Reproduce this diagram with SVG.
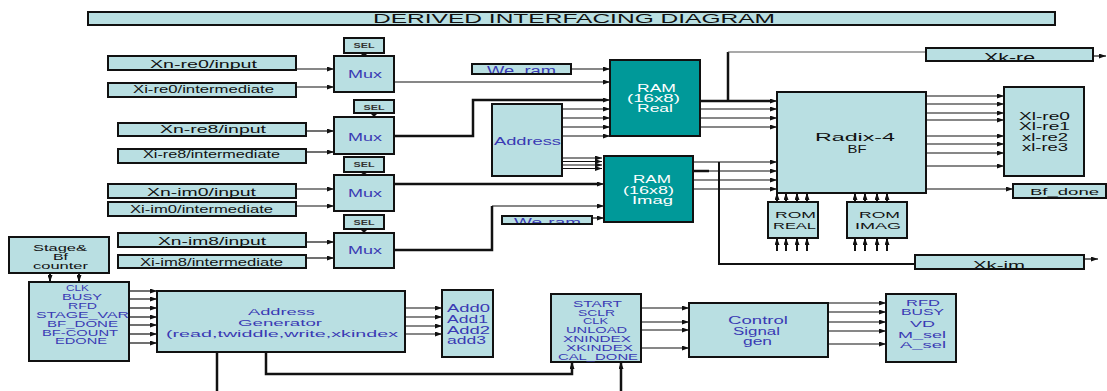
<svg xmlns="http://www.w3.org/2000/svg" width="1107" height="391" viewBox="0 0 1107 391">
<style>
.b{fill:#b9dfe2;stroke:#111;stroke-width:2}
.t{fill:#009999;stroke:#111;stroke-width:2}
text{font-family:"Liberation Sans",Arial,sans-serif;text-anchor:middle}
.k{fill:#111}
.u{fill:#3a3ab4}
.w{fill:#fff}
.l{text-anchor:start}
.sel{font-size:6.5px;font-weight:bold;fill:#333}
.c{fill:none;stroke:#111;stroke-width:1.2}
.cg{fill:none;stroke:#555;stroke-width:1.2}
.ck{fill:none;stroke:#111;stroke-width:2.5}
.a{marker-end:url(#ah)}
</style>
<defs>
<marker id="ah" markerWidth="7" markerHeight="5" refX="7" refY="2.5" orient="auto" markerUnits="userSpaceOnUse"><path d="M0,0 L7,2.5 L0,5 z" fill="#111"/></marker>
<clipPath id="cw1"><rect x="473" y="64" width="97" height="9"/></clipPath>
<clipPath id="cw2"><rect x="503" y="216" width="88" height="7"/></clipPath>
<clipPath id="ckr"><rect x="927" y="48" width="165" height="12"/></clipPath>
<clipPath id="cki"><rect x="916" y="255" width="167" height="13"/></clipPath>
</defs>

<g id="title"><rect class="b" x="88" y="12" width="967" height="13"/><text class="k" x="574" y="23" font-size="13" textLength="402" lengthAdjust="spacingAndGlyphs">DERIVED INTERFACING DIAGRAM</text></g>

<g id="connectors">
<path class="c a" d="M296,69H334"/><path class="c a" d="M296,87H334"/>
<path class="c a" d="M306,131H334"/><path class="c a" d="M306,152H334"/>
<path class="c a" d="M296,189H334"/><path class="c a" d="M296,206H334"/>
<path class="c a" d="M306,242H334"/><path class="c a" d="M306,258H334"/>
<path d="M360,53H368L364,57z" fill="#111"/><path d="M370,113H378L374,117z" fill="#111"/>
<path d="M360,172H368L364,175z" fill="#111"/><path d="M360,229H368L364,233z" fill="#111"/>
<path class="c a" d="M394,82H610"/>
<path class="ck" d="M394,136H473V100H603"/><path class="c a" d="M600,100H610"/>
<path class="ck" d="M394,184H597"/><path class="c a" d="M595,184H604"/>
<path class="ck" d="M394,250H492V206"/><path class="c a" d="M492,206H604"/>
<path class="c a" d="M571,69H610"/><path class="c a" d="M592,218H604"/>
<path class="c a" d="M562,109H610"/><path class="c a" d="M562,118H610"/><path class="c a" d="M562,127H610"/><path class="c a" d="M562,136H610"/>
<path class="c a" d="M562,158H602"/><path class="c a" d="M562,161.5H602"/><path class="c a" d="M562,165H602"/><path class="c a" d="M562,168.5H602"/>
<path class="ck" d="M700,101H770"/><path class="c a" d="M768,101H777"/>
<path class="c a" d="M700,109H777"/><path class="c a" d="M700,118H777"/><path class="c a" d="M700,127H777"/>
<path class="ck" d="M728,101V52"/><path class="cg" d="M728,52H926"/>
<path class="c a" d="M1093,56H1106"/>
<path class="c a" d="M693,162H777"/><path class="c a" d="M693,171H777"/><path class="ck" d="M693,171H709"/><path class="c a" d="M693,180H777"/><path class="c a" d="M693,189H777"/>
<path class="ck" d="M719,162V264H915" style="stroke-width:2"/>
<path class="c a" d="M1084,259H1098"/>
<path class="c a" d="M926,96H1004"/><path class="c a" d="M926,104H1004"/><path class="c a" d="M926,113H1004"/><path class="c a" d="M926,120H1004"/>
<path class="c a" d="M926,136H1004"/><path class="c a" d="M926,144H1004"/><path class="c a" d="M926,153H1004"/><path class="c a" d="M926,166H1004"/>
<path class="c a" d="M926,189H1013"/>
<path class="ck a" style="stroke-width:2" d="M777,251V238"/><path class="ck a" style="stroke-width:2" d="M786,251V238"/><path class="ck a" style="stroke-width:2" d="M797,251V238"/><path class="ck a" style="stroke-width:2" d="M807,251V238"/>
<path class="ck a" style="stroke-width:2" d="M777,202V193"/><path class="ck a" style="stroke-width:2" d="M786,202V193"/><path class="ck a" style="stroke-width:2" d="M797,202V193"/><path class="ck a" style="stroke-width:2" d="M807,202V193"/>
<path class="ck a" style="stroke-width:2" d="M855,251V238"/><path class="ck a" style="stroke-width:2" d="M865,251V238"/><path class="ck a" style="stroke-width:2" d="M877,251V238"/><path class="ck a" style="stroke-width:2" d="M887,251V238"/>
<path class="ck a" style="stroke-width:2" d="M855,202V193"/><path class="ck a" style="stroke-width:2" d="M865,202V193"/><path class="ck a" style="stroke-width:2" d="M877,202V193"/><path class="ck a" style="stroke-width:2" d="M887,202V193"/>
<path class="ck a" style="stroke-width:2" d="M50,273V282"/><path class="ck a" style="stroke-width:2" d="M79,273V282"/>
<path class="c a" d="M129,291H157"/><path class="c a" d="M129,299H157"/><path class="c a" d="M129,308H157"/><path class="c a" d="M129,317H157"/><path class="c a" d="M129,325H157"/><path class="c a" d="M129,334H157"/><path class="c a" d="M129,343H157"/>
<path class="c a" d="M405,308H442"/><path class="c a" d="M405,317H442"/><path class="c a" d="M405,326H442"/><path class="c a" d="M405,334H442"/>
<path class="ck" d="M217,352V391"/>
<path class="ck a" d="M266,352V374H572V362"/>
<path class="ck a" d="M621,391V362"/>
<path class="c a" d="M641,308H689"/><path class="c a" d="M641,322H689"/><path class="c a" d="M641,330H689"/><path class="c a" d="M641,348H689"/>
<path class="c a" d="M828,303H886"/><path class="c a" d="M828,312H886"/><path class="c a" d="M828,322H886"/><path class="c a" d="M828,331H886"/><path class="c a" d="M828,344H886"/>
</g>

<g id="xn-re0"><rect class="b" x="108" y="56" width="188" height="14"/><text class="k" x="203.5" y="68.3" font-size="11" textLength="107" lengthAdjust="spacingAndGlyphs">Xn-re0/input</text></g>
<g id="xi-re0"><rect class="b" x="108" y="83" width="188" height="14"/><text class="k" x="203.5" y="93" font-size="11" textLength="141" lengthAdjust="spacingAndGlyphs">Xi-re0/intermediate</text></g>
<g id="xn-re8"><rect class="b" x="118" y="123" width="188" height="13"/><text class="k" x="213" y="133" font-size="11" textLength="106" lengthAdjust="spacingAndGlyphs">Xn-re8/input</text></g>
<g id="xi-re8"><rect class="b" x="118" y="149" width="188" height="14"/><text class="k" x="211.5" y="158" font-size="11" textLength="137" lengthAdjust="spacingAndGlyphs">Xi-re8/intermediate</text></g>
<g id="xn-im0"><rect class="b" x="108" y="184" width="188" height="14"/><text class="k" x="201.5" y="195.5" font-size="11" textLength="109" lengthAdjust="spacingAndGlyphs">Xn-im0/input</text></g>
<g id="xi-im0"><rect class="b" x="108" y="202" width="188" height="14"/><text class="k" x="201.5" y="213" font-size="11" textLength="143" lengthAdjust="spacingAndGlyphs">Xi-im0/intermediate</text></g>
<g id="xn-im8"><rect class="b" x="118" y="233" width="188" height="14"/><text class="k" x="212" y="245" font-size="11" textLength="108" lengthAdjust="spacingAndGlyphs">Xn-im8/input</text></g>
<g id="xi-im8"><rect class="b" x="118" y="255" width="188" height="13"/><text class="k" x="211.5" y="266.3" font-size="11" textLength="143" lengthAdjust="spacingAndGlyphs">Xi-im8/intermediate</text></g>

<g id="mux1"><rect class="b" x="344" y="38" width="40" height="15"/><text class="sel" x="364" y="47.5" textLength="21" lengthAdjust="spacingAndGlyphs">SEL</text><rect class="b" x="334" y="56" width="60" height="36"/><text class="u" x="365" y="78.3" font-size="11.5" textLength="34" lengthAdjust="spacingAndGlyphs">Mux</text></g>
<g id="mux2"><rect class="b" x="354" y="100" width="40" height="13"/><text class="sel" x="374" y="110" textLength="21" lengthAdjust="spacingAndGlyphs">SEL</text><rect class="b" x="334" y="117" width="60" height="37"/><text class="u" x="365" y="140.7" font-size="11.5" textLength="34" lengthAdjust="spacingAndGlyphs">Mux</text></g>
<g id="mux3"><rect class="b" x="344" y="157" width="40" height="15"/><text class="sel" x="364" y="166.8" textLength="21" lengthAdjust="spacingAndGlyphs">SEL</text><rect class="b" x="334" y="175" width="60" height="36"/><text class="u" x="365" y="197.3" font-size="11.5" textLength="34" lengthAdjust="spacingAndGlyphs">Mux</text></g>
<g id="mux4"><rect class="b" x="344" y="215" width="40" height="14"/><text class="sel" x="364" y="224.6" textLength="21" lengthAdjust="spacingAndGlyphs">SEL</text><rect class="b" x="334" y="233" width="60" height="35"/><text class="u" x="365" y="254" font-size="11.5" textLength="34" lengthAdjust="spacingAndGlyphs">Mux</text></g>

<g id="we-ram1"><rect class="b" x="472" y="64" width="99" height="10"/><text class="u" x="521.5" y="75" font-size="12" textLength="69" lengthAdjust="spacingAndGlyphs" clip-path="url(#cw1)">We_ram</text></g>
<g id="we-ram2"><rect class="b" x="502" y="216" width="90" height="8"/><text class="u" x="547.5" y="226" font-size="11" textLength="67" lengthAdjust="spacingAndGlyphs" clip-path="url(#cw2)">We-ram</text></g>
<g id="address"><rect class="b" x="492" y="104" width="70" height="72"/><text class="u" x="527.5" y="145" font-size="11.5" textLength="67" lengthAdjust="spacingAndGlyphs">Address</text></g>

<g id="ram-real"><rect class="t" x="610" y="60" width="90" height="76"/>
<text class="w" x="656.5" y="91.5" font-size="10" textLength="39" lengthAdjust="spacingAndGlyphs">RAM</text>
<text class="w" x="653.5" y="102" font-size="10" textLength="53" lengthAdjust="spacingAndGlyphs">(16x8)</text>
<text class="w" x="655" y="112.3" font-size="10" textLength="36" lengthAdjust="spacingAndGlyphs">Real</text></g>
<g id="ram-imag"><rect class="t" x="604" y="156" width="89" height="66"/>
<text class="w" x="652" y="183" font-size="10" textLength="38" lengthAdjust="spacingAndGlyphs">RAM</text>
<text class="w" x="648.5" y="193.5" font-size="10" textLength="51" lengthAdjust="spacingAndGlyphs">(16x8)</text>
<text class="w" x="652.5" y="203.8" font-size="10" textLength="41" lengthAdjust="spacingAndGlyphs">Imag</text></g>

<g id="radix"><rect class="b" x="777" y="92" width="149" height="101"/>
<text class="k" x="855" y="141" font-size="11.5" textLength="80" lengthAdjust="spacingAndGlyphs">Radix-4</text>
<text class="k" x="857" y="152.5" font-size="11.5" textLength="19" lengthAdjust="spacingAndGlyphs">BF</text></g>

<g id="xk-re"><rect class="b" x="926" y="48" width="167" height="13"/><text class="k" x="1009.5" y="61.5" font-size="12" textLength="51" lengthAdjust="spacingAndGlyphs" clip-path="url(#ckr)">Xk-re</text></g>
<g id="xl-re"><rect class="b" x="1004" y="87" width="80" height="89"/>
<text class="k" x="1044.5" y="119.7" font-size="10" textLength="51" lengthAdjust="spacingAndGlyphs">Xl-re0</text>
<text class="k" x="1044.5" y="130.3" font-size="10" textLength="51" lengthAdjust="spacingAndGlyphs">Xl-re1</text>
<text class="k" x="1045" y="141" font-size="10" textLength="46" lengthAdjust="spacingAndGlyphs">xl-re2</text>
<text class="k" x="1045" y="151.3" font-size="10" textLength="46" lengthAdjust="spacingAndGlyphs">xl-re3</text></g>
<g id="bf-done"><rect class="b" x="1013" y="184" width="93" height="14"/><text class="k" x="1064.5" y="195" font-size="9.5" textLength="69" lengthAdjust="spacingAndGlyphs">Bf_done</text></g>
<g id="rom-real"><rect class="b" x="768" y="202" width="50" height="36"/>
<text class="k" x="795.5" y="217.7" font-size="9.5" textLength="41" lengthAdjust="spacingAndGlyphs">ROM</text>
<text class="k" x="794.5" y="229" font-size="9.5" textLength="43" lengthAdjust="spacingAndGlyphs">REAL</text></g>
<g id="rom-imag"><rect class="b" x="847" y="202" width="60" height="36"/>
<text class="k" x="879.5" y="217.7" font-size="9.5" textLength="41" lengthAdjust="spacingAndGlyphs">ROM</text>
<text class="k" x="878" y="229" font-size="9.5" textLength="46" lengthAdjust="spacingAndGlyphs">IMAG</text></g>
<g id="xk-im"><rect class="b" x="915" y="255" width="169" height="14"/><text class="k" x="999" y="268.5" font-size="11.5" textLength="52" lengthAdjust="spacingAndGlyphs" clip-path="url(#cki)">Xk-im</text></g>

<g id="stage-counter"><rect class="b" x="9" y="237" width="100" height="36"/>
<text class="k" x="60" y="250.5" font-size="9" textLength="54" lengthAdjust="spacingAndGlyphs">Stage&amp;</text>
<text class="k" x="60.5" y="259.5" font-size="9" textLength="15" lengthAdjust="spacingAndGlyphs">Bf</text>
<text class="k" x="60.5" y="269" font-size="9" textLength="55" lengthAdjust="spacingAndGlyphs">counter</text></g>

<g id="signals"><rect class="b" x="29" y="282" width="100" height="79"/>
<text class="u" x="77.5" y="291.3" font-size="8.5" textLength="23" lengthAdjust="spacingAndGlyphs">CLK</text>
<text class="u" x="82" y="300" font-size="8.5" textLength="40" lengthAdjust="spacingAndGlyphs">BUSY</text>
<text class="u" x="82.5" y="309" font-size="8.5" textLength="29" lengthAdjust="spacingAndGlyphs">RFD</text>
<text class="u" x="82.5" y="318" font-size="8.5" textLength="93" lengthAdjust="spacingAndGlyphs">STAGE_VAR</text>
<text class="u" x="82.5" y="327" font-size="8.5" textLength="71" lengthAdjust="spacingAndGlyphs">BF_DONE</text>
<text class="u" x="80" y="335.7" font-size="8.5" textLength="76" lengthAdjust="spacingAndGlyphs">BF-COUNT</text>
<text class="u" x="81" y="344" font-size="8.5" textLength="52" lengthAdjust="spacingAndGlyphs">EDONE</text></g>

<g id="address-generator"><rect class="b" x="157" y="291" width="248" height="61"/>
<text class="u" x="281.5" y="315" font-size="9.5" textLength="67" lengthAdjust="spacingAndGlyphs">Address</text>
<text class="u" x="280" y="325.7" font-size="9.5" textLength="84" lengthAdjust="spacingAndGlyphs">Generator</text>
<text class="u" x="282" y="336.7" font-size="9.5" textLength="232" lengthAdjust="spacingAndGlyphs">(read,twiddle,write,xkindex</text></g>

<g id="add"><rect class="b" x="442" y="290" width="51" height="67"/>
<text class="u l" x="447" y="311.5" font-size="10.5" textLength="43" lengthAdjust="spacingAndGlyphs">Add0</text>
<text class="u l" x="447" y="322.8" font-size="10.5" textLength="41" lengthAdjust="spacingAndGlyphs">Add1</text>
<text class="u l" x="447" y="333.8" font-size="10.5" textLength="43" lengthAdjust="spacingAndGlyphs">Add2</text>
<text class="u l" x="447" y="343.8" font-size="10.5" textLength="39" lengthAdjust="spacingAndGlyphs">add3</text></g>

<g id="start"><rect class="b" x="551" y="294" width="90" height="68"/>
<text class="u" x="597.5" y="306.5" font-size="9" textLength="49" lengthAdjust="spacingAndGlyphs">START</text>
<text class="u" x="596.5" y="315.5" font-size="9" textLength="37" lengthAdjust="spacingAndGlyphs">SCLR</text>
<text class="u" x="595.5" y="324.2" font-size="9" textLength="25" lengthAdjust="spacingAndGlyphs">CLK</text>
<text class="u" x="596.5" y="332.5" font-size="9" textLength="61" lengthAdjust="spacingAndGlyphs">UNLOAD</text>
<text class="u" x="597" y="341.5" font-size="9" textLength="68" lengthAdjust="spacingAndGlyphs">XNINDEX</text>
<text class="u" x="599.5" y="350.5" font-size="9" textLength="67" lengthAdjust="spacingAndGlyphs">XKINDEX</text>
<text class="u" x="598" y="359.5" font-size="9" textLength="80" lengthAdjust="spacingAndGlyphs">CAL_DONE</text></g>

<g id="control"><rect class="b" x="689" y="303" width="139" height="54"/>
<text class="u" x="758" y="324.3" font-size="10" textLength="60" lengthAdjust="spacingAndGlyphs">Control</text>
<text class="u" x="756.5" y="334.6" font-size="10" textLength="47" lengthAdjust="spacingAndGlyphs">Signal</text>
<text class="u" x="757.5" y="344.6" font-size="10" textLength="29" lengthAdjust="spacingAndGlyphs">gen</text></g>

<g id="outputs"><rect class="b" x="886" y="294" width="70" height="68"/>
<text class="u" x="923" y="306.1" font-size="9.5" textLength="34" lengthAdjust="spacingAndGlyphs">RFD</text>
<text class="u" x="922.5" y="315.1" font-size="9.5" textLength="43" lengthAdjust="spacingAndGlyphs">BUSY</text>
<text class="u" x="922.5" y="326.7" font-size="9.5" textLength="25" lengthAdjust="spacingAndGlyphs">VD</text>
<text class="u" x="922" y="337.7" font-size="9.5" textLength="48" lengthAdjust="spacingAndGlyphs">M_sel</text>
<text class="u" x="923" y="348.1" font-size="9.5" textLength="46" lengthAdjust="spacingAndGlyphs">A_sel</text></g>
</svg>
